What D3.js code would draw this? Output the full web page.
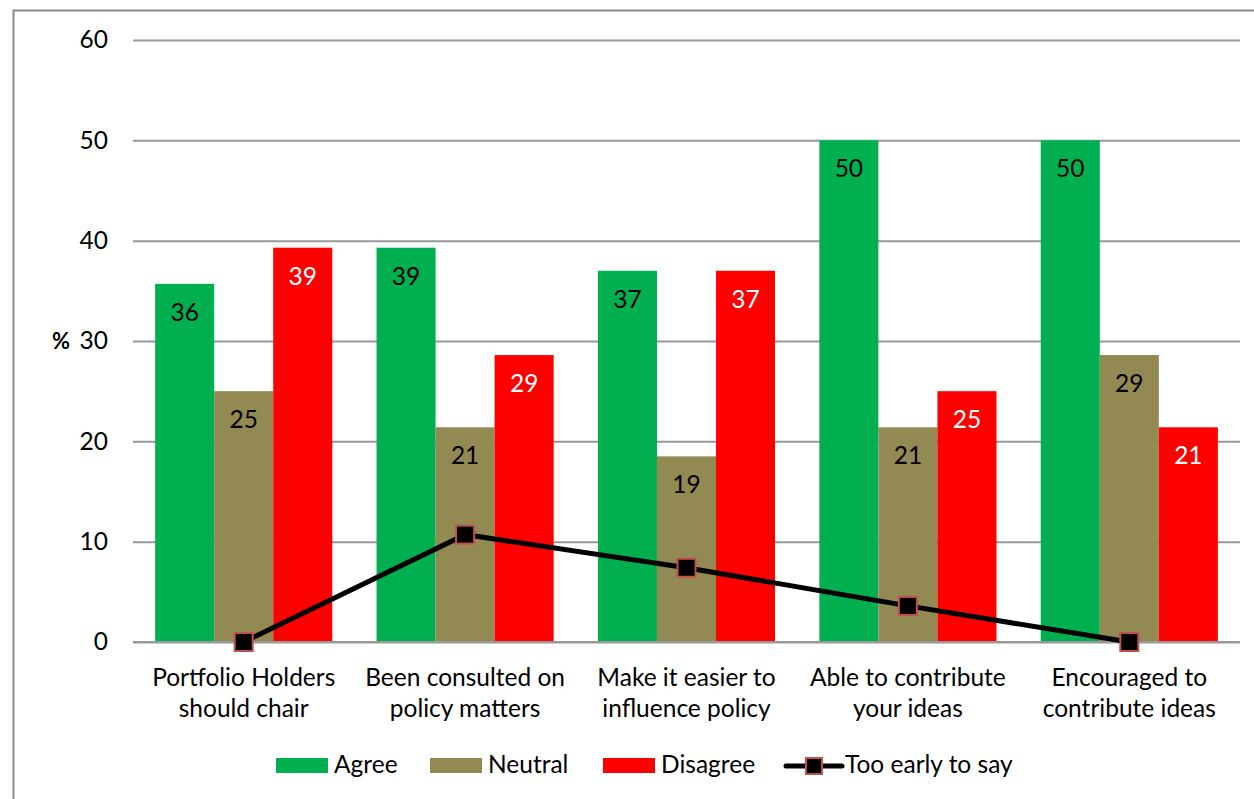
<!DOCTYPE html>
<html>
<head>
<meta charset="utf-8">
<script src="https://cdn.jsdelivr.net/npm/d3@7"></script>
<style>
  html, body { margin: 0; padding: 0; background: #fff; }
  svg { display: block; font-family: Lato, "Open Sans", sans-serif; }
</style>
</head>
<body>
<svg id="chart" width="1254" height="799"></svg>
<script>
// Survey responses (%) per statement
const categories = [
  ["Portfolio Holders", "should chair"],
  ["Been consulted on", "policy matters"],
  ["Make it easier to", "influence policy"],
  ["Able to contribute", "your ideas"],
  ["Encouraged to", "contribute ideas"]
];
const agree    = [35.7, 39.3, 37.0, 50.0, 50.0];
const neutral  = [25.0, 21.4, 18.5, 21.4, 28.6];
const disagree = [39.3, 28.6, 37.0, 25.0, 21.4];
const tooEarly = [0, 10.7, 7.4, 3.6, 0];
const yTicks   = [0, 10, 20, 30, 40, 50, 60];

const barSeries = [
  { name: "Agree",    values: agree,    color: "#00B050", labelColor: "#000" },
  { name: "Neutral",  values: neutral,  color: "#938953", labelColor: "#000" },
  { name: "Disagree", values: disagree, color: "#FF0000", labelColor: "#fff" }
];

const FS = 24.5;
const svg = d3.select("#chart");
const plotLeft = 133, plotRight = 1240, plotTop = 40, plotBottom = 642;

// outer frame
svg.append("rect")
  .attr("x", 13.5).attr("y", 10.5)
  .attr("width", 1260).attr("height", 800)
  .attr("fill", "none").attr("stroke", "#8c8c8c").attr("stroke-width", 2);

const x = d3.scaleBand().domain(d3.range(categories.length)).range([plotLeft, plotRight]).paddingInner(0.2).paddingOuter(0.1);
const xSub = d3.scaleBand().domain(barSeries.map(s => s.name)).range([0, x.bandwidth()]);
const y = d3.scaleLinear().domain([0, 60]).range([plotBottom, plotTop]);

// grid lines and value axis
const yAxis = d3.axisLeft(y).tickValues(yTicks).tickSize(-(plotRight - plotLeft)).tickPadding(25);
const gy = svg.append("g").attr("transform", `translate(${plotLeft},0)`).call(yAxis);
gy.select(".domain").remove();
gy.selectAll(".tick line").attr("stroke", "#999").attr("stroke-width", 2);
gy.selectAll(".tick text").attr("font-size", FS).attr("fill", "#000").attr("font-family", "Lato, sans-serif");

// bars
barSeries.forEach(s => {
  const g = svg.append("g");
  g.selectAll("rect").data(s.values).join("rect")
    .attr("x", (d, i) => x(i) + xSub(s.name))
    .attr("y", d => y(d))
    .attr("width", xSub.bandwidth())
    .attr("height", d => y(0) - y(d))
    .attr("fill", s.color);
  g.selectAll("text").data(s.values).join("text")
    .attr("x", (d, i) => x(i) + xSub(s.name) + xSub.bandwidth() / 2)
    .attr("y", d => y(d) + 37)
    .attr("text-anchor", "middle")
    .attr("font-size", FS)
    .attr("fill", s.labelColor)
    .text(d => d3.format(".0f")(d));
});

// baseline
svg.append("line").attr("x1", plotLeft).attr("x2", plotRight).attr("y1", y(0)).attr("y2", y(0))
  .attr("stroke", "#999").attr("stroke-width", 2);

// "too early to say" line with square markers
const cx = i => x(i) + x.bandwidth() / 2;
const line = d3.line().x((d, i) => cx(i)).y(d => y(d));
svg.append("path").datum(tooEarly).attr("d", line)
  .attr("fill", "none").attr("stroke", "#000").attr("stroke-width", 5);
svg.append("g").selectAll("rect").data(tooEarly).join("rect")
  .attr("x", (d, i) => cx(i) - 9).attr("y", d => y(d) - 9)
  .attr("width", 18).attr("height", 18)
  .attr("fill", "#000").attr("stroke", "#C0504D").attr("stroke-width", 2);

// category labels
const cl = svg.append("g");
categories.forEach((lines, i) => {
  const t = cl.append("text").attr("text-anchor", "middle").attr("font-size", FS).attr("fill", "#000");
  lines.forEach((l, j) => {
    t.append("tspan").attr("x", cx(i)).attr("y", 686 + j * 31).text(l);
  });
});

// axis title
svg.append("text").attr("x", 70).attr("y", 349).attr("text-anchor", "end")
  .attr("font-size", 22).attr("font-weight", "bold").text("%");

// legend
const legend = svg.append("g").attr("font-size", FS);
const legendItems = [
  { name: "Agree", color: "#00B050", x: 276, type: "bar" },
  { name: "Neutral", color: "#938953", x: 430, type: "bar" },
  { name: "Disagree", color: "#FF0000", x: 603, type: "bar" },
  { name: "Too early to say", color: "#000", x: 786, type: "line" }
];
legendItems.forEach(it => {
  if (it.type === "bar") {
    legend.append("rect").attr("x", it.x).attr("y", 758).attr("width", 52).attr("height", 15).attr("fill", it.color);
    legend.append("text").attr("x", it.x + 58).attr("y", 773).text(it.name);
  } else {
    legend.append("line").attr("x1", it.x).attr("x2", it.x + 56).attr("y1", 766).attr("y2", 766)
      .attr("stroke", "#000").attr("stroke-width", 5).attr("stroke-linecap", "round");
    legend.append("rect").attr("x", it.x + 20).attr("y", 758).attr("width", 16).attr("height", 16)
      .attr("fill", "#000").attr("stroke", "#C0504D").attr("stroke-width", 2);
    legend.append("text").attr("x", it.x + 59).attr("y", 773).text(it.name);
  }
});
</script>
</body>
</html>
